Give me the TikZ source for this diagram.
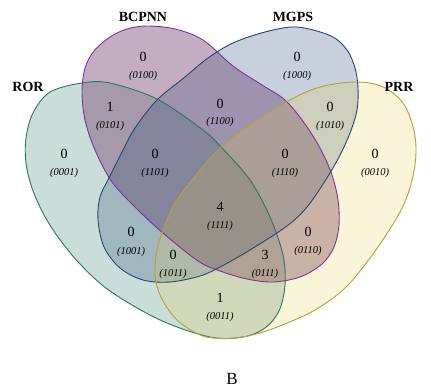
\documentclass[tikz,border=0pt]{standalone}
\usepackage{fontspec}
\setmainfont{Liberation Serif}
\begin{document}
\begin{tikzpicture}[x=1pt,y=-1pt]
\definecolor{rorline}{RGB}{42,118,100}
\definecolor{bcpline}{RGB}{122,52,162}
\definecolor{mgpline}{RGB}{38,72,110}
\definecolor{prrline}{RGB}{182,162,52}
\definecolor{rorfill}{RGB}{46,125,107}
\definecolor{bcpfill}{RGB}{110,50,100}
\definecolor{mgpfill}{RGB}{40,70,120}
\definecolor{prrfill}{RGB}{230,200,60}
\tikzset{
  setname/.style={font=\fontsize{14}{14}\selectfont\bfseries, inner sep=0pt},
  cnt/.style={font=\fontsize{14}{14}\selectfont, inner sep=0pt},
  code/.style={font=\fontsize{10.5}{11}\selectfont\itshape, inner sep=0pt},
  outline/.style={line width=0.9pt},
}
\useasboundingbox (0,0) rectangle (431,389);
\path[fill=white] (0,0) rectangle (431,389);
% shapes
\def\rorpath{plot[smooth cycle, tension=0.55] coordinates {(82,83) (110,83) (157,99) (203,130) (222,148) (250,180) (270,217) (283,255) (285,285) (279,311) (265,328) (243,337) (210,337) (160,320) (110,291) (80,264) (58,237) (43,213) (32,188) (26,163) (26,138) (33,113) (50,92)}}
\def\bcppath{plot[smooth cycle, tension=0.55] coordinates {(147,26) (175,29) (203,40) (233,66) (262,85) (285,100) (305,124) (321,150) (332,175) (338,200) (339,225) (334,247) (322,264) (300,277) (273,282) (247,279) (220,271) (198,261) (163,233) (137,209) (112,182) (95,150) (85,120) (82,92) (85,68) (94,51) (110,37) (127,29)}}
\def\mgppath{plot[smooth cycle, tension=0.55] coordinates {(297,27) (331,36) (347,50) (355,68) (358,88) (357,110) (350,133) (339,157) (325,181) (307,207) (287,226) (250,250) (220,267) (200,276) (170,282) (143,280) (120,268) (104,247) (98,220) (100,197) (109,178) (122,152) (135,128) (157,100) (185,77) (208,58) (233,43) (265,32)}}
\def\prrpath{plot[smooth cycle, tension=0.6] coordinates {(356,82) (383,87) (403,103) (413,127) (416,150) (413,176) (404,204) (388,232) (367,262) (344,289) (315,310) (287,323) (260,333) (235,338) (214,338) (198,334) (176,319) (161,297) (155,275) (157,250) (164,228) (175,203) (192,180) (220,148) (257,120) (290,100) (320,87)}}
\fill[rorfill, fill opacity=0.25] \rorpath;
\fill[bcpfill, fill opacity=0.4] \bcppath;
\fill[mgpfill, fill opacity=0.25] \mgppath;
\fill[prrfill, fill opacity=0.2] \prrpath;
\draw[outline, rorline] \rorpath;
\draw[outline, bcpline] \bcppath;
\draw[outline, mgpline] \mgppath;
\draw[outline, prrline] \prrpath;
% set names
\node[setname] (nror) at (28,87) {ROR};
\node[setname] (nbcp) at (143,17) {BCPNN};
\node[setname] (nmgp) at (293,17) {MGPS};
\node[setname] (nprr) at (399,87) {PRR};
% counts and codes
\node[cnt] (c0100) at (143,57) {0}; \node[code] (k0100) at (143,76) {(0100)};
\node[cnt] (c1000) at (297,57) {0}; \node[code] (k1000) at (297,76) {(1000)};
\node[cnt] (c0101) at (110,107) {1}; \node[code] (k0101) at (110,126) {(0101)};
\node[cnt] (c1100) at (220,104) {0}; \node[code] (k1100) at (220,122) {(1100)};
\node[cnt] (c1010) at (330,107) {0}; \node[code] (k1010) at (330,126) {(1010)};
\node[cnt] (c0001) at (64,154) {0}; \node[code] (k0001) at (64,173) {(0001)};
\node[cnt] (c1101) at (155,154) {0}; \node[code] (k1101) at (155,173) {(1101)};
\node[cnt] (c1110) at (285,154) {0}; \node[code] (k1110) at (285,173) {(1110)};
\node[cnt] (c0010) at (375,154) {0}; \node[code] (k0010) at (375,173) {(0010)};
\node[cnt] (c1111) at (220,207) {4}; \node[code] (k1111) at (220,226) {(1111)};
\node[cnt] (c1001) at (131,232) {0}; \node[code] (k1001) at (131,252) {(1001)};
\node[cnt] (c0110) at (308,232) {0}; \node[code] (k0110) at (308,251) {(0110)};
\node[cnt] (c1011) at (173,255) {0}; \node[code] (k1011) at (173,274) {(1011)};
\node[cnt] (c0111) at (265,255) {3}; \node[code] (k0111) at (265,274) {(0111)};
\node[cnt] (c0011) at (220,298) {1}; \node[code] (k0011) at (220,317) {(0011)};
\node[font=\fontsize{17}{17}\selectfont, inner sep=0pt] (lab) at (232,379) {B};
\end{tikzpicture}
\end{document}
